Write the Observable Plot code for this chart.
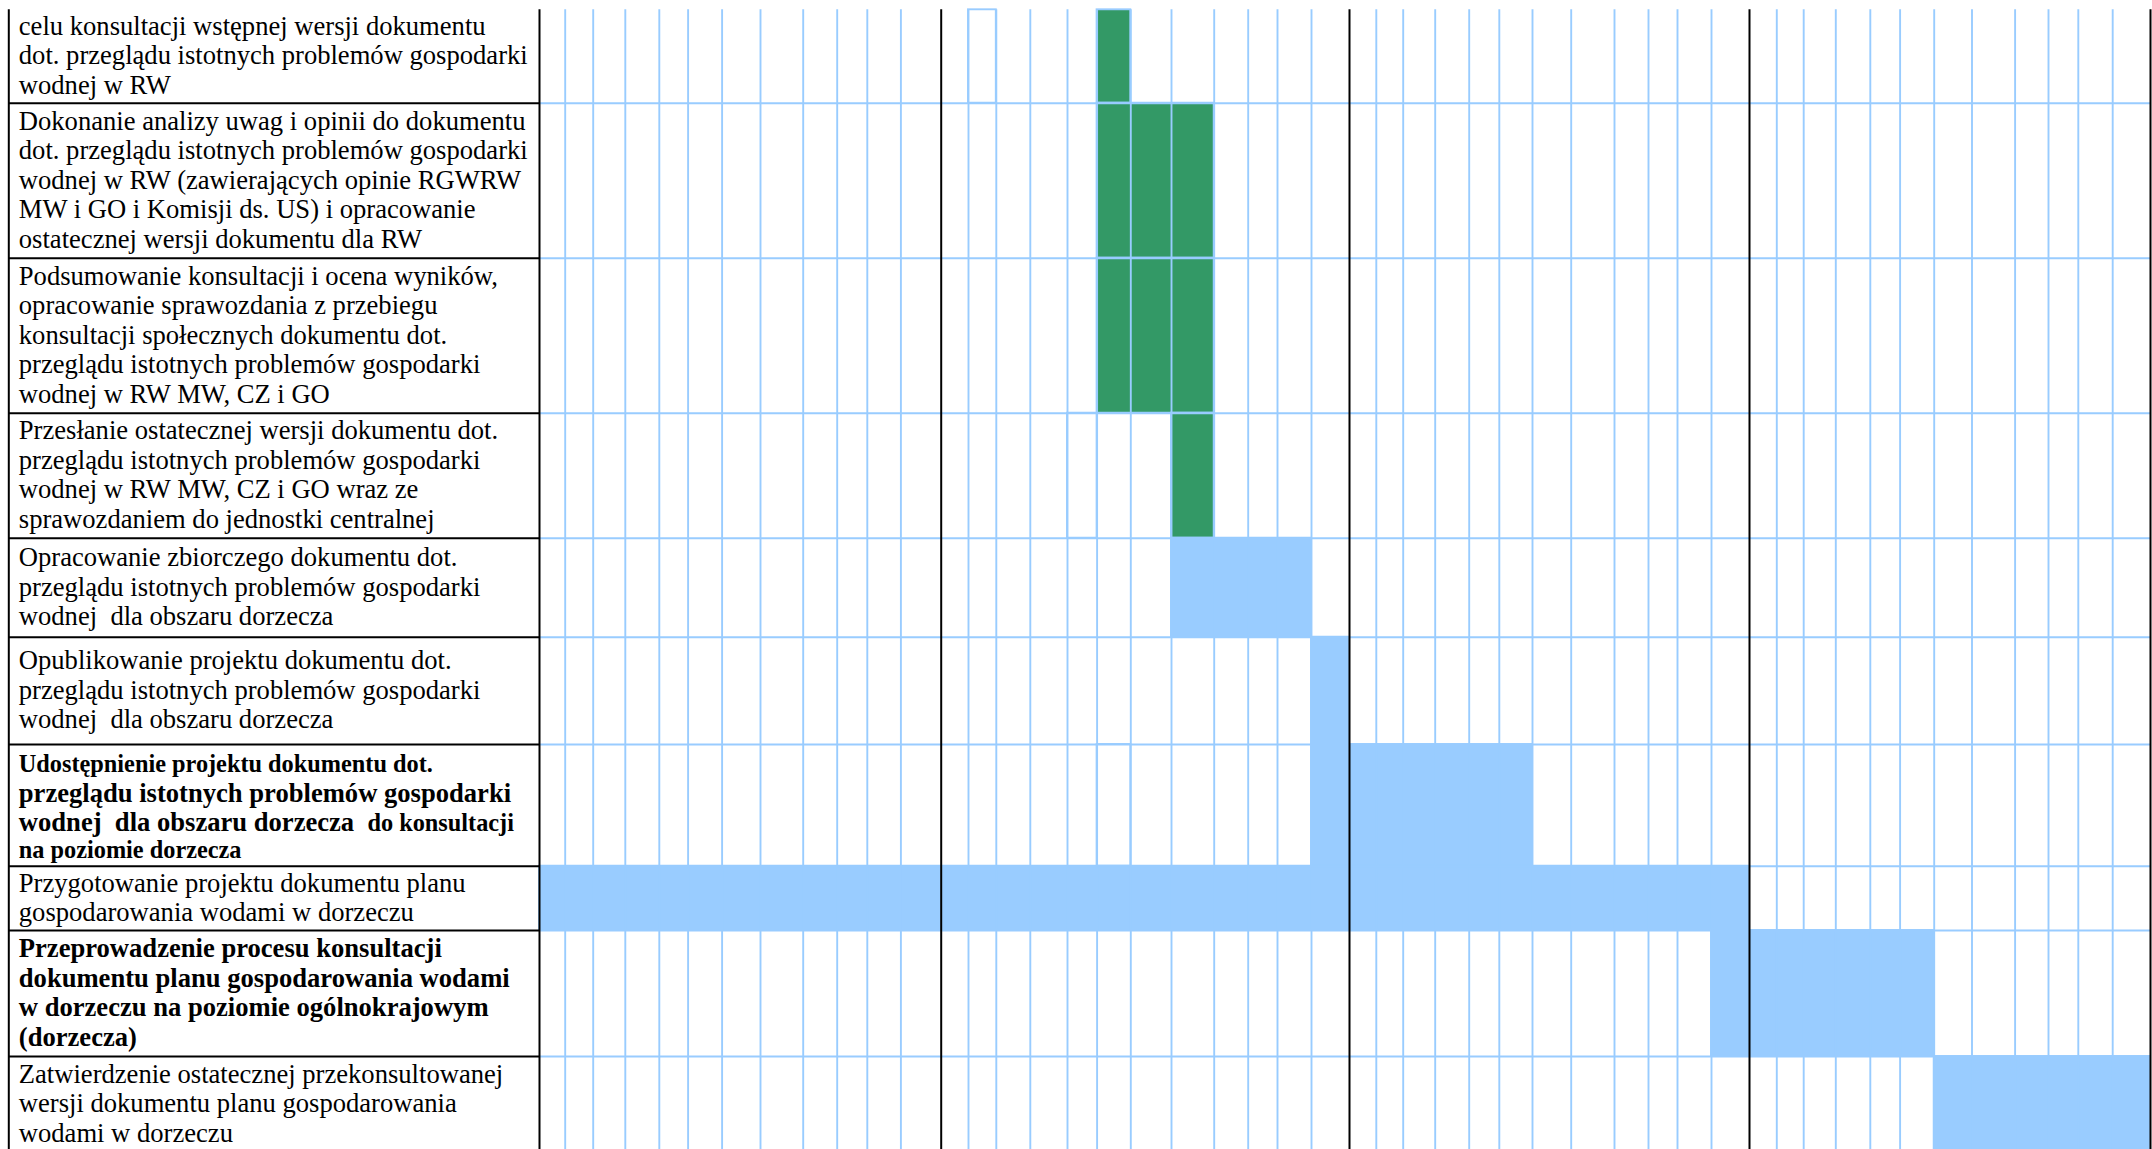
<!DOCTYPE html>
<html>
<head>
<meta charset="utf-8">
<script src="https://cdn.jsdelivr.net/npm/d3@7"></script>
<script src="https://cdn.jsdelivr.net/npm/@observablehq/plot@0.6"></script>
<style>
html, body { margin: 0; padding: 0; background: #fff; overflow: hidden; }
svg text { white-space: pre; }
</style>
</head>
<body>
<div id="chart"></div>
<script>
// ---------- data ----------
const tasks = [
  "celu konsultacji wstępnej wersji dokumentu\ndot. przeglądu istotnych problemów gospodarki\nwodnej w RW",
  "Dokonanie analizy uwag i opinii do dokumentu\ndot. przeglądu istotnych problemów gospodarki\nwodnej w RW (zawierających opinie RGWRW\nMW i GO i Komisji ds. US) i opracowanie\nostatecznej wersji dokumentu dla RW",
  "Podsumowanie konsultacji i ocena wyników,\nopracowanie sprawozdania z przebiegu\nkonsultacji społecznych dokumentu dot.\nprzeglądu istotnych problemów gospodarki\nwodnej w RW MW, CZ i GO",
  "Przesłanie ostatecznej wersji dokumentu dot.\nprzeglądu istotnych problemów gospodarki\nwodnej w RW MW, CZ i GO wraz ze\nsprawozdaniem do jednostki centralnej",
  "Opracowanie zbiorczego dokumentu dot.\nprzeglądu istotnych problemów gospodarki\nwodnej  dla obszaru dorzecza",
  "Opublikowanie projektu dokumentu dot.\nprzeglądu istotnych problemów gospodarki\nwodnej  dla obszaru dorzecza",
  "Udostępnienie projektu dokumentu dot.\nprzeglądu istotnych problemów gospodarki\nwodnej  dla obszaru dorzecza  do konsultacji\nna poziomie dorzecza",
  "Przygotowanie projektu dokumentu planu\ngospodarowania wodami w dorzeczu",
  "Przeprowadzenie procesu konsultacji\ndokumentu planu gospodarowania wodami\nw dorzeczu na poziomie ogólnokrajowym\n(dorzecza)",
  "Zatwierdzenie ostatecznej przekonsultowanej\nwersji dokumentu planu gospodarowania\nwodami w dorzeczu"
];
// months counted from the first month of the 4-year grid (0..48)
const startMonth = [17, 17, 17, 19, 19, 23, 23, 0, 35, 42];
const endMonth   = [18, 20, 20, 20, 23, 24, 30, 36, 42, 48];
const stage = ["RW", "RW", "RW", "RW", "dorzecze", "dorzecze", "dorzecze", "dorzecze", "dorzecze", "dorzecze"];
const stages = ["RW", "dorzecze"];
const boldRows = [6, 8];
const smallSegments = ["Udostępnienie projektu dokumentu dot.", "do konsultacji", "na poziomie dorzecza"];
const outlinedRows = [0, 3, 6];
const outlinedMonths = [13, 16, 17];
const yearStarts = [0, 12, 24, 36, 48];
const nMonths = 48;

// ---------- layout (scale ranges, px) ----------
const LABEL = -1; // x value of the task-description column's left edge
const columnEdges = [8.3,
  539, 564.7, 592.7, 624.8, 658.8, 687.6, 721.6, 760.0, 802.7, 836.7, 866.8, 900.4,
  940.7, 968, 995.8, 1029.8, 1067, 1096.6, 1130.3, 1171, 1213.7, 1247.7, 1277, 1311,
  1349, 1375.8, 1402.7, 1434.7, 1468.7, 1498.8, 1532, 1570.7, 1614, 1648, 1677, 1711,
  1749, 1776.3, 1803.2, 1835.3, 1869.8, 1899.6, 1933.7, 1971.5, 2014.6, 2048, 2077.8, 2112.2,
  2150];
const rowEdges = [9.3, 102.7, 257.7, 412.7, 537.7, 636.7, 744, 865.7, 930, 1056, 1152];

const GREEN = "#339966";
const BLUE = "#99CCFF";
const FONT = "Liberation Serif, Times New Roman, serif";
const FS = 26.6, FS_SMALL = 24.3;
const GRID_W = 1.9;

const rows = tasks.map((label, i) => ({
  row: i, label, start: startMonth[i], end: endMonth[i], stage: stage[i], bold: boldRows.includes(i)
}));
const outlined = outlinedRows.map((r, i) => ({row: r, month: outlinedMonths[i]}));
const nRows = tasks.length;
const monthLines = d3.range(1, nMonths).filter(m => m % 12 !== 0);

const textOpts = {
  x: () => LABEL, y: d => d.row + 0.5, text: "label",
  textAnchor: "start", lineAnchor: "middle", lineHeight: 1.11,
  dx: 10, dy: -1.5, fontSize: FS, fontFamily: FONT, fill: "black"
};

const chart = Plot.plot({
  width: 2152,
  height: 1149,
  margin: 0,
  x: {type: "linear", domain: [LABEL, ...d3.range(0, nMonths + 1)], range: columnEdges, axis: null},
  y: {type: "linear", domain: d3.range(0, nRows + 1), range: rowEdges, axis: null},
  color: {domain: stages, range: [GREEN, BLUE]},
  marks: [
    Plot.rect(rows, {x1: "start", x2: "end", y1: "row", y2: d => d.row + 1, fill: "stage", stroke: BLUE, strokeWidth: GRID_W}),
    Plot.ruleX(monthLines, {y1: 0, y2: nRows, stroke: BLUE, strokeWidth: GRID_W}),
    Plot.ruleY(d3.range(1, nRows), {x1: 0, x2: nMonths, stroke: BLUE, strokeWidth: GRID_W}),
    Plot.rect(outlined, {x1: "month", x2: d => d.month + 1, y1: "row", y2: d => d.row + 1, fill: "none", stroke: BLUE, strokeWidth: GRID_W}),
    Plot.ruleY(d3.range(1, nRows), {x1: LABEL, x2: 0, stroke: "black", strokeWidth: 2}),
    Plot.ruleX([LABEL, ...yearStarts], {y1: 0, y2: nRows, stroke: "black", strokeWidth: 2}),
    Plot.text(rows.filter(d => !d.bold), textOpts),
    Plot.text(rows.filter(d => d.bold), {...textOpts, fontWeight: "bold"})
  ]
});

// smaller-size fragments inside the mixed-format label
d3.select(chart).selectAll("text tspan").each(function() {
  const t = this.textContent;
  for (const seg of smallSegments) {
    if (t === seg) {
      this.setAttribute("font-size", FS_SMALL);
    } else if (t.length > seg.length && t.endsWith(seg)) {
      this.textContent = t.slice(0, t.length - seg.length);
      const inner = document.createElementNS("http://www.w3.org/2000/svg", "tspan");
      inner.setAttribute("font-size", FS_SMALL);
      inner.textContent = seg;
      this.appendChild(inner);
      break;
    }
  }
});

document.getElementById("chart").appendChild(chart);
</script>
</body>
</html>
